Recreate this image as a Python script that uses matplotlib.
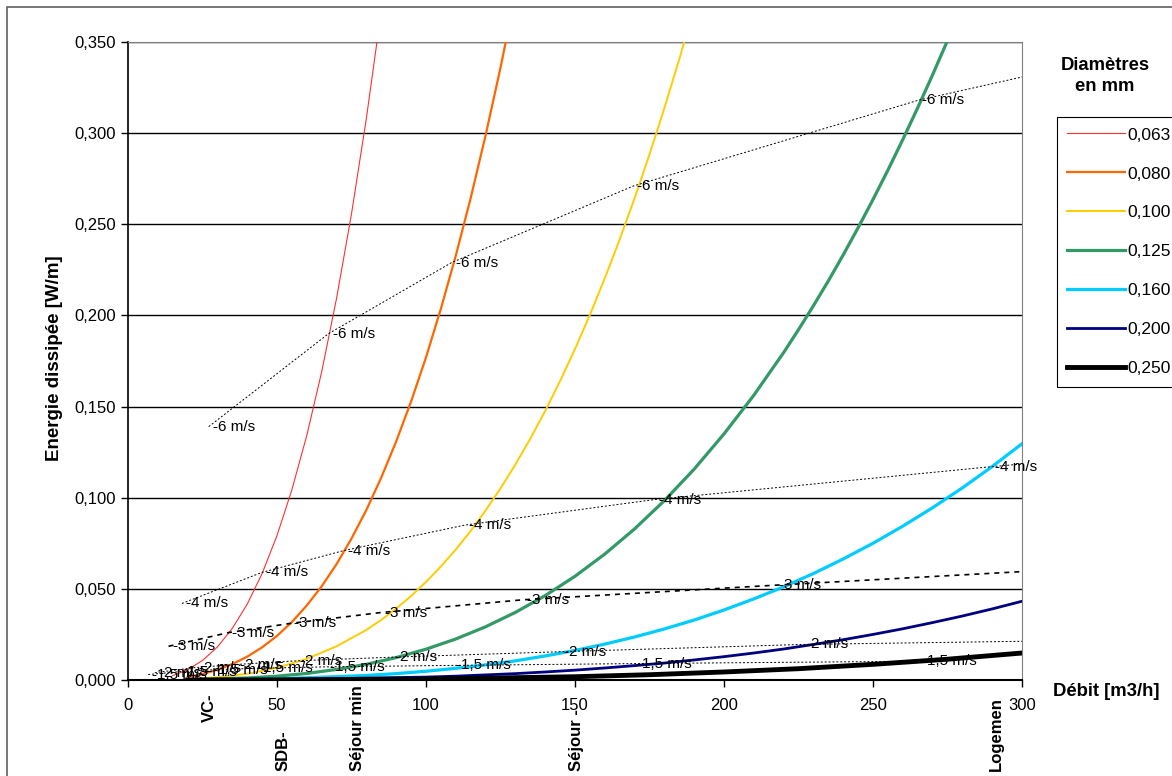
import matplotlib
matplotlib.use('Agg')
import matplotlib.pyplot as plt
from matplotlib.patches import Rectangle

plt.rcParams['font.family'] = ['Liberation Sans', 'DejaVu Sans']

# diameter curves (debit m3/h -> energie W/m)
d063_x = [15, 20, 25, 30, 35, 40, 45, 50, 55, 60, 65, 70, 75, 80, 85]
d063_y = [0.0024, 0.0056, 0.0107, 0.0181, 0.0283, 0.0416, 0.0584, 0.0792, 0.1044, 0.1342, 0.1691, 0.2095, 0.2557, 0.3082, 0.3672]
d080_x = [20, 25, 30, 35, 40, 45, 50, 55, 60, 65, 70, 75, 80, 85, 90, 95, 100, 105, 110, 115, 120, 125, 130]
d080_y = [0.0017, 0.0033, 0.0056, 0.0087, 0.0128, 0.0179, 0.0242, 0.0318, 0.0409, 0.0514, 0.0636, 0.0776,
          0.0933, 0.1111, 0.1309, 0.1528, 0.1770, 0.2037, 0.2328, 0.2644, 0.2988, 0.3359, 0.3759]
d100_x = [20, 30, 40, 50, 60, 70, 80, 85, 90, 95, 100, 105, 110, 115, 120, 125, 130, 135, 140, 145,
          150, 155, 160, 165, 170, 175, 180, 185, 190]
d100_y = [0.0004, 0.0015, 0.0034, 0.0067, 0.0116, 0.0185, 0.0275, 0.0330, 0.0392, 0.0461, 0.0538, 0.0623,
          0.0716, 0.0818, 0.0930, 0.1051, 0.1182, 0.1324, 0.1476, 0.1640, 0.1816, 0.2003, 0.2204, 0.2417,
          0.2643, 0.2883, 0.3138, 0.3406, 0.3690]
d125_x = [20, 40, 50, 60, 70, 80, 90, 100, 110, 120, 130, 140, 150, 160, 170, 180, 190, 200, 210, 220,
          225, 230, 235, 240, 245, 250, 255, 260, 265, 270, 275, 280]
d125_y = [0.0001, 0.0011, 0.0021, 0.0036, 0.0058, 0.0086, 0.0123, 0.0169, 0.0225, 0.0292, 0.0371, 0.0463,
          0.0569, 0.0691, 0.0829, 0.0984, 0.1157, 0.1350, 0.1562, 0.1796, 0.1922, 0.2053, 0.2189, 0.2332,
          0.2481, 0.2636, 0.2797, 0.2965, 0.3139, 0.3320, 0.3508, 0.3703]
d160_x = [20, 50, 80, 90, 100, 110, 120, 130, 140, 150, 160, 170, 180, 190, 200, 210, 220, 230, 240,
          250, 260, 270, 280, 290, 300]
d160_y = [0.00004, 0.0006, 0.0025, 0.0035, 0.0048, 0.0064, 0.0083, 0.0105, 0.0132, 0.0162, 0.0197, 0.0236,
          0.0280, 0.0329, 0.0384, 0.0445, 0.0511, 0.0584, 0.0664, 0.0750, 0.0844, 0.0945, 0.1054, 0.1171, 0.1296]
d200_x = [20, 50, 100, 110, 120, 130, 140, 150, 160, 170, 180, 190, 200, 210, 220, 230, 240, 250, 260,
          270, 280, 290, 300]
d200_y = [0.00001, 0.0002, 0.0016, 0.0021, 0.0028, 0.0035, 0.0044, 0.0054, 0.0066, 0.0079, 0.0093, 0.0110,
          0.0128, 0.0148, 0.0170, 0.0195, 0.0221, 0.0250, 0.0281, 0.0315, 0.0351, 0.0390, 0.0432]
d250_x = [20, 50, 100, 150, 175, 200, 225, 250, 275, 300]
d250_y = [0.0, 0.0001, 0.0005, 0.0018, 0.0029, 0.0044, 0.0062, 0.0086, 0.0114, 0.0148]

diam_labels = ['0,063', '0,080', '0,100', '0,125', '0,160', '0,200', '0,250']

# iso-velocity lines
v6_x = [27.1, 67.3, 108.6, 169.6, 265.1, 434.3]
v6_y = [0.139, 0.190, 0.229, 0.271, 0.318, 0.380]
v4_x = [18.1, 44.9, 72.4, 113.1, 176.7, 289.5, 452.4]
v4_y = [0.042, 0.059, 0.071, 0.085, 0.099, 0.117, 0.140]
v3_x = [13.6, 33.7, 54.3, 84.8, 132.5, 217.1, 339.3]
v3_y = [0.0185, 0.026, 0.031, 0.037, 0.044, 0.052, 0.063]
v2_x = [9.0, 22.4, 36.2, 56.5, 88.4, 144.8, 226.2, 353.4]
v2_y = [0.004, 0.0068, 0.0085, 0.0105, 0.0125, 0.0155, 0.0195, 0.0225]
v15_x = [6.8, 16.8, 27.1, 42.4, 66.3, 108.6, 169.6, 265.1]
v15_y = [0.003, 0.0045, 0.0055, 0.0064, 0.0072, 0.008, 0.009, 0.0103]
v_labels = ['6 m/s', '4 m/s', '3 m/s', '2 m/s', '1,5 m/s']

# room markers under the x axis
room_x = [27.2, 52, 77, 150.5, 291.5]
room_txt = ['VC-', 'SDB-', 'Séjour min', 'Séjour -', 'Logemen']

fig = plt.figure(figsize=(11.72, 7.76), dpi=100)
ax = fig.add_axes([128/1172, 1-680/776, (1022-128)/1172, (680-42)/776])

curves = [(d063_x, d063_y, '#ff3030', 0.8),
          (d080_x, d080_y, '#ff6600', 1.6),
          (d100_x, d100_y, '#ffcc00', 1.4),
          (d125_x, d125_y, '#339966', 2.3),
          (d160_x, d160_y, '#00ccff', 2.3),
          (d200_x, d200_y, '#000080', 2.0),
          (d250_x, d250_y, '#000000', 3.5)]
for (x, y, c, lw), lab in zip(curves, diam_labels):
    ax.plot(x, y, color=c, lw=lw, label=lab, zorder=3)

vlines = [(v6_x, v6_y), (v4_x, v4_y), (v3_x, v3_y), (v2_x, v2_y), (v15_x, v15_y)]
for (x, y), lab in zip(vlines, v_labels):
    if lab == '3 m/s':
        ax.plot(x, y, color='black', lw=1.2, ls=(0, (3, 3)), zorder=4)
    else:
        ax.plot(x, y, color='black', lw=0.7, ls=(0, (2, 2)), zorder=4)
    for xi, yi in zip(x, y):
        if xi <= 300:
            ax.annotate('-' + lab, (xi, yi), xytext=(4, 0), textcoords='offset pixels',
                        ha='left', va='center', fontsize=11, zorder=5, annotation_clip=False)

ax.set_xlim(0, 300)
ax.set_ylim(0, 0.35)
ax.set_xticks(range(0, 301, 50))
ax.set_yticks([0.05 * i for i in range(8)])
ax.set_yticklabels([('%.3f' % (0.05 * i)).replace('.', ',') for i in range(8)])
ax.tick_params(labelsize=12, length=5, width=1, direction='out')
ax.tick_params(axis='x', pad=8)
ax.yaxis.grid(True, color='black', lw=1)
ax.set_axisbelow(True)
for s in ['top', 'right']:
    ax.spines[s].set_color('#808080')
ax.spines['bottom'].set_linewidth(1.5)
ax.spines['left'].set_linewidth(1.2)

for xr, t in zip(room_x, room_txt):
    yb = -0.143
    if t == 'VC-':
        yb = -0.066
    ax.text(xr, yb, t, rotation=90, ha='center', va='bottom', fontsize=12,
            fontweight='bold', transform=ax.get_xaxis_transform())

fig.text(55/1172, 1-358/776, 'Energie dissipée [W/m]', rotation=90, fontsize=13.5,
         fontweight='bold', ha='center', va='center')
fig.text(1053/1172, 1-691/776, 'Débit [m3/h]', fontsize=13.3, fontweight='bold', ha='left', va='center')

fig.text(1105/1172, 1-76/776, 'Diamètres\nen mm', fontsize=13.3, fontweight='bold',
         ha='center', va='center', linespacing=1.35)
leg = ax.legend(loc='upper left', bbox_to_anchor=(1057/1172, 1-117/776), bbox_transform=fig.transFigure,
                fancybox=False, edgecolor='black', framealpha=1, fontsize=12.5,
                labelspacing=1.37, handlelength=3.3, handletextpad=0.15, borderpad=0.6,
                borderaxespad=0)
leg.get_frame().set_linewidth(0.8)

fig.patches.append(Rectangle((7/1172, -0.1), 1.2, 1.1 - 7/776, transform=fig.transFigure,
                             fill=False, edgecolor='#606060', lw=1.2))

fig.savefig('out.png', dpi=100)
